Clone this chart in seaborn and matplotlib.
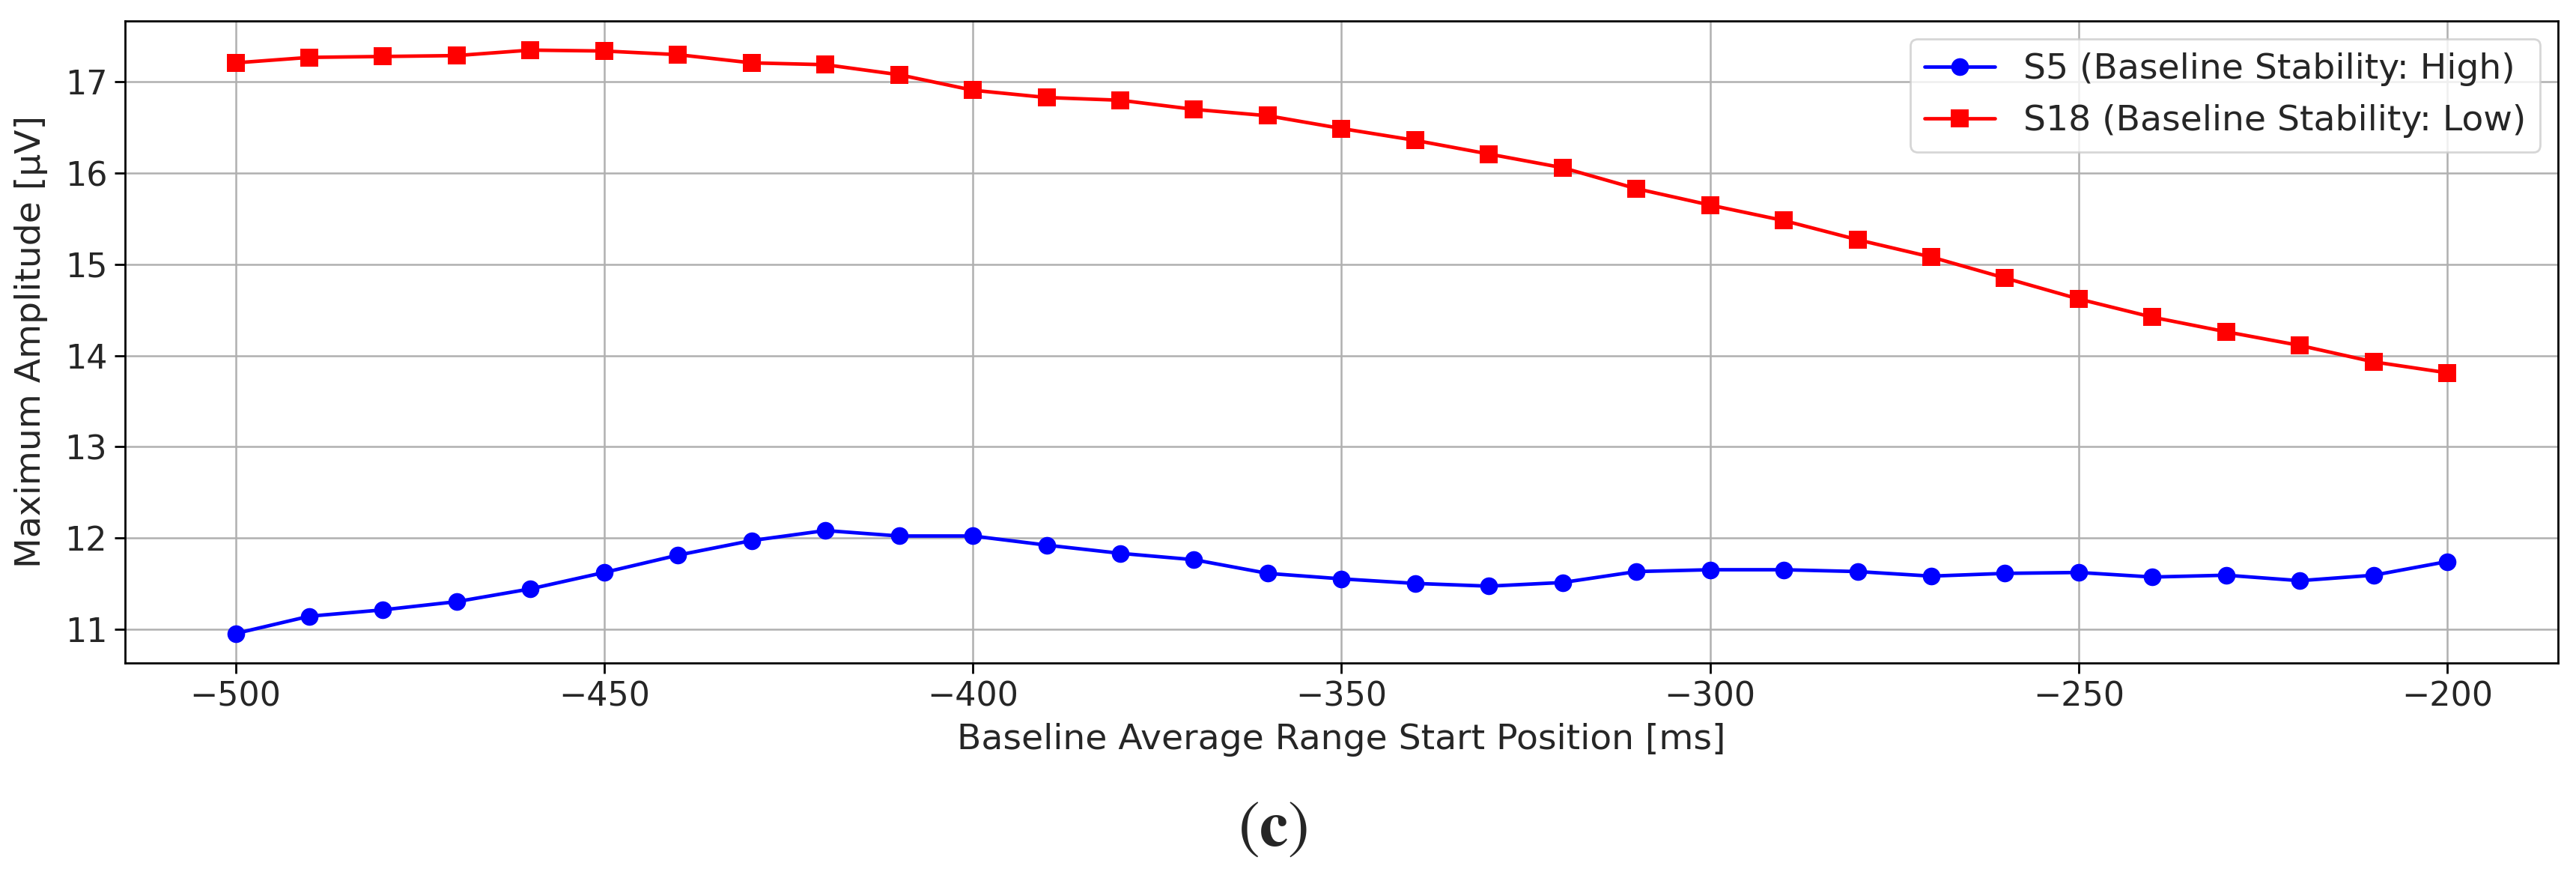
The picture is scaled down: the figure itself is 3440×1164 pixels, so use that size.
import numpy as np
import pandas as pd
import matplotlib
matplotlib.use("Agg")
import matplotlib.pyplot as plt
import seaborn as sns

x_ms = [-500, -490, -480, -470, -460, -450, -440, -430, -420, -410,
        -400, -390, -380, -370, -360, -350, -340, -330, -320, -310,
        -300, -290, -280, -270, -260, -250, -240, -230, -220, -210, -200]

s5 = [10.95, 11.14, 11.21, 11.30, 11.44, 11.62, 11.81, 11.97, 12.08, 12.02,
      12.02, 11.92, 11.83, 11.76, 11.61, 11.55, 11.50, 11.47, 11.51, 11.63,
      11.65, 11.65, 11.63, 11.58, 11.61, 11.62, 11.57, 11.59, 11.53, 11.59, 11.74]

s18 = [17.21, 17.27, 17.28, 17.29, 17.35, 17.34, 17.30, 17.21, 17.19, 17.08,
       16.91, 16.83, 16.80, 16.70, 16.63, 16.49, 16.36, 16.21, 16.06, 15.83,
       15.65, 15.48, 15.27, 15.08, 14.85, 14.62, 14.42, 14.26, 14.11, 13.93, 13.81]

label_s5 = "S5 (Baseline Stability: High)"
label_s18 = "S18 (Baseline Stability: Low)"
x_label = "Baseline Average Range Start Position [ms]"
y_label = "Maximum Amplitude [\u03bcV]"
x_ticks = [-500, -450, -400, -350, -300, -250, -200]
y_ticks = [11, 12, 13, 14, 15, 16, 17]
panel_label = r"$(\mathbf{c})$"

df = pd.DataFrame({
    "x": x_ms * 2,
    "y": s5 + s18,
    "series": [label_s5] * len(s5) + [label_s18] * len(s18),
})

sns.set_theme(style="ticks")
plt.rcParams["font.family"] = ["DejaVu Sans"]
plt.rcParams["axes.edgecolor"] = "black"
plt.rcParams["axes.linewidth"] = 1.0
plt.rcParams["mathtext.fontset"] = "stix"

fig = plt.figure(figsize=(17.2, 5.82), dpi=200)
ax = fig.add_axes([0.0485, 0.240, 0.9445, 0.736])

sns.lineplot(data=df, x="x", y="y", hue="series", style="series",
             palette={label_s5: "blue", label_s18: "red"},
             markers={label_s5: "o", label_s18: "s"}, dashes=False,
             markersize=8.5, markeredgewidth=0, linewidth=1.7, ax=ax)

ax.grid(True, color="#b0b0b0", linewidth=0.9)
ax.set_xticks(x_ticks)
ax.set_yticks(y_ticks)
ax.tick_params(axis="both", labelsize=16, direction="out", length=5, width=1, color="black")
ax.set_xlabel(x_label, fontsize=17, labelpad=5)
ax.set_ylabel(y_label, fontsize=17, labelpad=8)
ax.margins(x=0.05, y=0.05)

leg = ax.legend(loc="upper right", fontsize=17, frameon=True, framealpha=0.8,
                edgecolor="#cccccc", fancybox=True, markerscale=1.0)

fig.text(0.494, 0.051, panel_label, ha="center", va="center", fontsize=31)

fig.savefig("out.png", dpi=200, facecolor="white")
